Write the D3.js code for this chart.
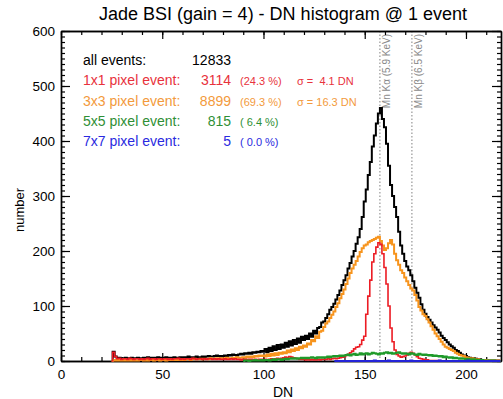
<!DOCTYPE html>
<html>
<head>
<meta charset="utf-8">
<script src="https://cdn.jsdelivr.net/npm/d3@7"></script>
<style>
body { margin: 0; background: #fff; }
text { font-family: "Liberation Sans", Arial, Helvetica, sans-serif; }
</style>
</head>
<body>
<div id="chart"></div>
<script>
// Histogram counts per 1 DN bin
const allStart = 25
const allEvents = [
    0, 17, 8, 5, 6,
    5, 4, 6, 5, 5, 6, 4, 5, 6, 5,
    5, 6, 5, 7, 5, 6, 6, 5, 7, 6,
    6, 5, 7, 6, 6, 5, 7, 6, 6, 7,
    6, 7, 6, 8, 7, 6, 7, 8, 7, 7,
    8, 7, 8, 9, 8, 8, 9, 10, 9, 8,
    9, 10, 9, 11, 10, 12, 11, 10, 12, 13,
    12, 14, 13, 15, 13, 16, 15, 17, 16, 18,
    17, 22, 16, 24, 18, 27, 20, 29, 22, 30,
    24, 33, 26, 36, 28, 38, 31, 41, 33, 44,
    38, 46, 40, 50, 44, 55, 50, 60, 62, 70,
    72, 78, 85, 93, 98, 104, 112, 120, 128, 138,
    147, 156, 168, 178, 190, 200, 213, 225, 240, 262,
    290, 312, 338, 362, 390, 410, 432, 450, 460, 440,
    425, 395, 355, 320, 300, 280, 262, 235, 210, 195,
    182, 172, 165, 156, 145, 133, 124, 115, 103, 93,
    86, 80, 75, 70, 65, 61, 57, 52, 46, 42,
    38, 34, 30, 27, 24, 20, 18, 15, 12, 10,
    9, 7, 6, 5, 5, 4, 3, 3, 2, 2,
    2, 1, 1, 1, 1, 0, 1, 0
]
const px3Start = 25
const px3Events = [
    0, 1, 2, 1, 2,
    1, 2, 1, 1, 2, 1, 2, 1, 1, 2,
    2, 1, 2, 1, 2, 2, 1, 2, 2, 1,
    2, 2, 1, 2, 3, 2, 2, 3, 2, 2,
    3, 2, 3, 3, 2, 3, 4, 3, 3, 4,
    3, 4, 4, 3, 5, 4, 4, 5, 4, 5,
    5, 4, 6, 5, 5, 6, 5, 7, 6, 6,
    7, 6, 8, 7, 8, 7, 9, 8, 10, 9,
    10, 8, 12, 9, 13, 10, 14, 11, 15, 13,
    16, 14, 19, 16, 21, 18, 23, 20, 26, 23,
    28, 26, 32, 30, 38, 36, 45, 42, 53, 55,
    62, 68, 72, 78, 84, 90, 98, 105, 114, 122,
    130, 140, 150, 160, 168, 175, 182, 190, 198, 205,
    210, 212, 216, 218, 220, 222, 224, 226, 218, 210,
    202, 205, 214, 220, 212, 195, 183, 175, 165, 160,
    152, 145, 138, 132, 128, 120, 110, 98, 92, 85,
    82, 76, 70, 63, 57, 50, 45, 40, 35, 30,
    26, 24, 22, 20, 18, 15, 13, 11, 10, 9,
    7, 6, 5, 5, 4, 3, 3, 2, 2, 2,
    2, 1, 1, 1, 1, 0, 1, 0
]
const px1Start = 25
const px1Events = [
    0, 16, 8, 4, 5,
    3, 4, 4, 3, 5, 4, 3, 4, 4, 3,
    4, 3, 4, 5, 3, 4, 4, 3, 4, 4,
    3, 4, 4, 3, 4, 3, 4, 4, 5, 3,
    4, 3, 4, 4, 3, 5, 4, 3, 4, 4,
    3, 4, 3, 4, 4, 3, 4, 3, 4, 3,
    3, 4, 3, 3, 4, 3, 4, 3, 3, 2,
    3, 3, 2, 3, 3, 2, 3, 2, 3, 3,
    2, 3, 2, 3, 4, 3, 4, 5, 4, 5,
    6, 7, 6, 8, 7, 6, 5, 4, 3, 3,
    3, 2, 3, 2, 3, 2, 2, 3, 2, 3,
    3, 3, 4, 3, 4, 5, 4, 5, 6, 7,
    8, 10, 12, 15, 18, 22, 25, 26, 30, 38,
    45, 85, 118, 147, 180, 195, 207, 215, 212, 195,
    170, 140, 100, 60, 35, 20, 12, 9, 7, 8,
    9, 11, 14, 16, 14, 11, 8, 5, 4, 3,
    2, 2, 1, 1, 1, 1, 0, 1, 0, 0
]
const px5Start = 90
const px5Events = [
    0, 1, 1, 0, 1, 1, 2, 1, 1, 2,
    1, 2, 2, 1, 2, 3, 2, 3, 3, 2,
    3, 4, 3, 4, 5, 4, 5, 4, 5, 6,
    5, 6, 5, 6, 7, 6, 5, 7, 6, 7,
    6, 7, 8, 7, 8, 9, 8, 9, 10, 9,
    10, 11, 12, 10, 12, 13, 11, 12, 14, 12,
    13, 14, 12, 13, 15, 14, 13, 12, 14, 13,
    15, 16, 14, 15, 13, 14, 15, 16, 14, 13,
    14, 13, 12, 14, 13, 12, 11, 13, 12, 11,
    12, 11, 10, 11, 9, 10, 9, 8, 9, 7,
    8, 7, 6, 7, 5, 6, 5, 4, 5, 4,
    3, 4, 3, 2, 3, 2, 2, 1, 2, 1,
    1, 1, 1, 0, 1, 0, 0, 0
]
const px7Start = 135
const px7Events = [
    0, 0, 0, 0, 0, 0, 0, 0, 0, 0,
    0, 0, 0, 0, 0, 0, 0, 0, 0, 0,
    1, 0, 0, 0, 0, 0, 0, 1, 0, 0,
    0, 0, 0, 0, 0, 0, 0, 0, 1, 0,
    0, 0, 0, 0, 0, 0, 0, 0, 0, 0,
    0, 0, 1, 0, 0, 0, 0, 0, 0, 0,
    0, 0, 0, 0, 0, 0, 1, 0, 0, 0,
    0, 0, 0, 0, 0, 0, 0, 0, 0, 0,
    0, 0, 0
]

// axis ticks
const xMajor = [0, 50, 100, 150, 200]
const yMajor = [0, 100, 200, 300, 400, 500, 600]

// legend texts
const legendNames = ["all events:", "1x1 pixel event:", "3x3 pixel event:", "5x5 pixel event:", "7x7 pixel event:"]
const legendCounts = ["12833", "3114", "8899", "815", "5"]
const legendPercents = ["", "(24.3 %)", "(69.3 %)", "( 6.4 %)", "( 0.0 %)"]
const legendSigmas = ["", "σ =  4.1 DN", "σ = 16.3 DN", "", ""]

// Mn lines
const lineDN = [157.5, 173.3]
const lineLabels = ["Mn Kα (5.9 KeV)", "Mn Kβ (6.5 KeV)"]

const seriesColors = ["#000000", "#f7941d", "#ec1c24", "#1f9a2a", "#2323d8"]
const textColors = ["#000000", "#e8323c", "#f39a3c", "#2f8f35", "#2a2ae0"]

// Dimensions
const W = 503, H = 399
const margin = { top: 31, right: 2, bottom: 38, left: 61 }

const svg = d3.select("#chart").append("svg")
    .attr("width", W)
    .attr("height", H)

const XScale = d3.scaleLinear().domain([0, 217.3]).range([margin.left, W - margin.right])
const YScale = d3.scaleLinear().domain([0, 600]).range([H - margin.bottom, margin.top])

// title
svg.append("text")
    .attr("x", 283)
    .attr("y", 20)
    .attr("text-anchor", "middle")
    .style("font-size", "18px")
    .text("Jade BSI (gain = 4) - DN histogram @ 1 event")

// dotted Mn lines with labels
lineDN.forEach((dn, i) => {
    svg.append("line")
        .attr("x1", XScale(dn)).attr("x2", XScale(dn))
        .attr("y1", YScale(600)).attr("y2", YScale(0))
        .attr("stroke", "#808080")
        .attr("stroke-width", 1)
        .attr("stroke-dasharray", "1.5,2")
    svg.append("text")
        .attr("transform", "translate(" + (XScale(dn) + 10) + "," + 34 + ") rotate(-90)")
        .attr("text-anchor", "end")
        .attr("fill", "#8a8a8a")
        .style("font-size", "10px")
        .text(lineLabels[i])
})

// axes: major + minor ticks on all four sides, pointing inward
const minorX = d3.range(0, 218, 10)
const minorY = d3.range(0, 601, 10)
const axisG = svg.append("g").attr("class", "axes")

axisG.append("g")
    .attr("transform", "translate(0," + YScale(0) + ")")
    .call(d3.axisBottom(XScale).tickValues(minorX).tickSize(-4).tickSizeOuter(0).tickFormat(""))
axisG.append("g")
    .attr("transform", "translate(0," + YScale(0) + ")")
    .call(d3.axisBottom(XScale).tickValues(xMajor).tickSize(-8).tickSizeOuter(0).tickPadding(8))
axisG.append("g")
    .attr("transform", "translate(0," + YScale(600) + ")")
    .call(d3.axisTop(XScale).tickValues(minorX).tickSize(-4).tickSizeOuter(0).tickFormat(""))
axisG.append("g")
    .attr("transform", "translate(0," + YScale(600) + ")")
    .call(d3.axisTop(XScale).tickValues(xMajor).tickSize(-8).tickSizeOuter(0).tickFormat(""))
axisG.append("g")
    .attr("transform", "translate(" + XScale(0) + ",0)")
    .call(d3.axisLeft(YScale).tickValues(minorY).tickSize(-4).tickSizeOuter(0).tickFormat(""))
axisG.append("g")
    .attr("transform", "translate(" + XScale(0) + ",0)")
    .call(d3.axisLeft(YScale).tickValues(yMajor).tickSize(-9).tickSizeOuter(0).tickPadding(6))
axisG.append("g")
    .attr("transform", "translate(" + XScale(217.3) + ",0)")
    .call(d3.axisRight(YScale).tickValues(minorY).tickSize(-4).tickSizeOuter(0).tickFormat(""))
axisG.append("g")
    .attr("transform", "translate(" + XScale(217.3) + ",0)")
    .call(d3.axisRight(YScale).tickValues(yMajor).tickSize(-9).tickSizeOuter(0).tickFormat(""))

axisG.selectAll("path.domain").attr("stroke", "#000").attr("stroke-width", 1.4)
axisG.selectAll(".tick line").attr("stroke", "#000").attr("stroke-width", 1.2)
axisG.selectAll(".tick text")
    .attr("fill", "#000")
    .style("font-size", "13.5px")
    .style("font-family", "'Liberation Sans', Arial, sans-serif")

// axis titles
svg.append("text")
    .attr("x", 283)
    .attr("y", 397)
    .attr("text-anchor", "middle")
    .style("font-size", "14px")
    .text("DN")
svg.append("text")
    .attr("transform", "translate(24,210) rotate(-90)")
    .attr("text-anchor", "middle")
    .style("font-size", "13px")
    .text("number")

// histogram lines
const Line = d3.line()
    .x(d => XScale(d[0]))
    .y(d => YScale(d[1]))
    .curve(d3.curveStep)

const series = [
    { start: allStart, values: allEvents, width: 2 },
    { start: px3Start, values: px3Events, width: 2 },
    { start: px1Start, values: px1Events, width: 1.6 },
    { start: px5Start, values: px5Events, width: 2 },
    { start: px7Start, values: px7Events, width: 2 }
]
svg.append("g").attr("class", "lines")
    .selectAll("path")
    .data(series)
    .enter().append("path")
    .attr("d", s => Line(s.values.map((v, i) => [s.start + i, v])))
    .attr("fill", "none")
    .attr("stroke", (s, i) => seriesColors[i])
    .attr("stroke-width", s => s.width)
    .attr("stroke-linejoin", "miter")

// legend
const legend = svg.append("g").attr("class", "legend")
legendNames.forEach((name, i) => {
    const y = 65 + i * 20.3
    legend.append("text").attr("x", 83).attr("y", y)
        .attr("fill", textColors[i]).style("font-size", "14px").text(name)
    legend.append("text").attr("x", 231).attr("y", y)
        .attr("text-anchor", "end")
        .attr("fill", textColors[i]).style("font-size", "14px").text(legendCounts[i])
    legend.append("text").attr("x", 240).attr("y", y)
        .attr("fill", textColors[i]).style("font-size", "11px").text(legendPercents[i])
    legend.append("text").attr("x", 297).attr("y", y)
        .attr("fill", textColors[i]).style("font-size", "11px")
        .style("white-space", "pre").text(legendSigmas[i])
})
</script>
</body>
</html>
